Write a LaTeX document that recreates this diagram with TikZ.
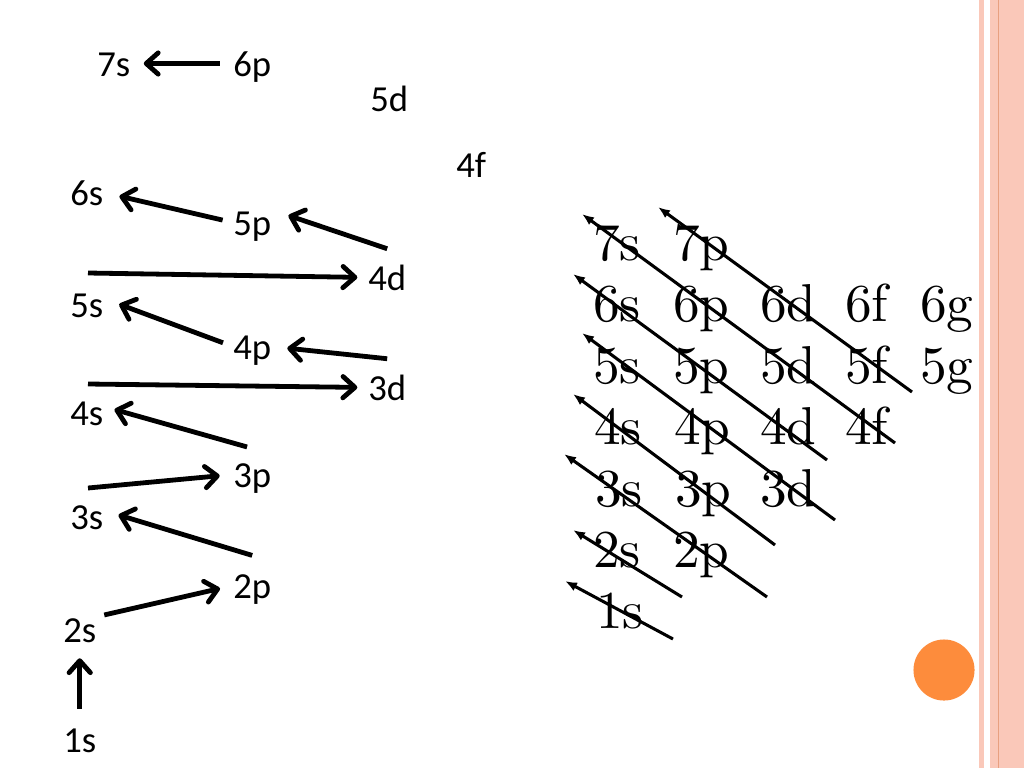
\documentclass[tikz,border=0pt]{standalone}
\usepackage{fontspec}
\newfontfamily\calibri{Carlito}
\newfontfamily\cmten{lmroman10-regular.otf}
\usetikzlibrary{arrows.meta}
\definecolor{stripe}{RGB}{250,200,185}
\definecolor{stripeline}{RGB}{232,160,128}
\definecolor{dotorange}{RGB}{253,140,60}
\tikzset{
  slabel/.style={
    anchor=base west,
    inner sep=0pt,
    text height=18.75pt,
    text depth=0pt,
    font=\calibri\fontsize{27.5}{32}\selectfont
  },
  tlabel/.style={
    anchor=base west,
    inner sep=0pt,
    font=\cmten\fontsize{40}{48}\selectfont
  },
  orderarrow/.style={
    line width=3.6pt,
    -{Straight Barb[length=9pt,width=16pt,round]}
  },
  diagarrow/.style={
    line width=2.3pt,
    -{Latex[length=9pt,width=7pt]}
  }
}

\begin{document}
\begin{tikzpicture}[x=0.75pt,y=-0.75pt]
  \useasboundingbox (0,0) rectangle (1024,768);
  \fill[white] (0,0) rectangle (1024,768);

  % slide border on the right
  \fill[stripe] (978.5,0) rectangle (983.5,768);
  \fill[stripe] (990,0) rectangle (1024,768);
  \draw[stripeline, line width=0.8pt] (998.5,0) -- (998.5,768);
  \fill[dotorange] (944,670) circle[radius=22.9pt];

  % filling order, left side
  \node[slabel] (l7s) at (97,76) {7s};
  \node[slabel] (l6p) at (233,76) {6p};
  \node[slabel] (l5d) at (370,111) {5d};
  \node[slabel] (l4f) at (456,177) {4f};
  \node[slabel] (l6s) at (70,205) {6s};
  \node[slabel] (l5p) at (233,235) {5p};
  \node[slabel] (l4d) at (368,290) {4d};
  \node[slabel] (l5s) at (70,317) {5s};
  \node[slabel] (l4p) at (233,359) {4p};
  \node[slabel] (l3d) at (368,400) {3d};
  \node[slabel] (l4s) at (70,425) {4s};
  \node[slabel] (l3p) at (233,487) {3p};
  \node[slabel] (l3s) at (70,529) {3s};
  \node[slabel] (l2p) at (233,598) {2p};
  \node[slabel] (l2s) at (63,642) {2s};
  \node[slabel] (l1s) at (63,752) {1s};

  \coordinate (s4d) at (88,273);
  \coordinate (s3d) at (88,384);
  \coordinate (s3p) at (88,488);

  \draw[orderarrow, shorten <=13.5pt, shorten >=12pt] (l1s.north) -- (l2s.south);
  \draw[orderarrow, shorten <=6pt, shorten >=10pt] (l2s.north east) -- (l2p.west);
  \draw[orderarrow, shorten >=11.8pt] ([yshift=13pt]l2p.north) -- (l3s.20);
  \draw[orderarrow, shorten >=10pt] (s3p) -- (l3p.west);
  \draw[orderarrow, shorten <=4pt, shorten >=8.6pt] ([yshift=10pt]l3p.north) -- (l4s.20);
  \draw[orderarrow, shorten >=8pt] (s3d) -- (l3d.west);
  \draw[orderarrow, shorten >=12pt] ([yshift=12pt]l3d.north) -- (l4p.east);
  \draw[orderarrow, shorten <=8pt, shorten >=12.6pt] (l4p.west) -- (l5s.20);
  \draw[orderarrow, shorten >=8pt] (s4d) -- (l4d.west);
  \draw[orderarrow, shorten >=13.5pt] ([yshift=12pt]l4d.north) -- (l5p.north east);
  \draw[orderarrow, shorten <=8pt, shorten >=12.3pt] (l5p.west) -- (l6s.east);
  \draw[orderarrow, shorten <=10pt, shorten >=10pt] (l6p.west) -- (l7s.east);

  % orbital table, right side
  \foreach \n/\y/\orbs in {7/260/{s/593,p/673},
                           6/321/{s/593,p/673,d/760,f/845,g/920},
                           5/383/{s/593,p/673,d/760,f/845,g/920},
                           4/444/{s/594,p/674,d/760,f/845},
                           3/506/{s/595,p/675,d/760},
                           2/567/{s/593,p/673},
                           1/628/{s/596}}
    \foreach \l/\x in \orbs
      \node[tlabel] (r\n\l) at (\x,\y) {\n\l};

  % diagonals
  \foreach \sx/\sy/\ex/\ey in {673/639/565/581, 682/597/573/530,
                               767/597/564/454, 775/545/573/394,
                               835/520/582/333, 827/460/573/274,
                               895/443/582/214, 912/392/658/207}
    \draw[diagarrow] (\sx,\sy) -- (\ex,\ey);

\end{tikzpicture}
\end{document}
